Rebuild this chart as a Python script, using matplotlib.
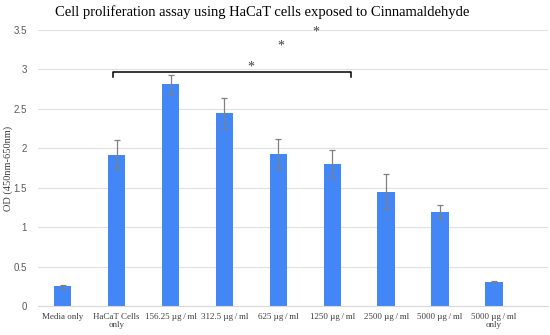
import matplotlib
matplotlib.use("Agg")
import matplotlib.pyplot as plt
import numpy as np

u = "µg\u2009/\u2009ml"
categories = ["Media only", "HaCaT Cells\nonly", "156.25 " + u, "312.5 " + u, "625 " + u,
              "1250 " + u, "2500 " + u, "5000 " + u, "5000 " + u + "\nonly"]
values = [0.25, 1.92, 2.81, 2.45, 1.93, 1.80, 1.45, 1.19, 0.31]
errors = [0.02, 0.18, 0.12, 0.19, 0.19, 0.18, 0.22, 0.09, 0.01]
yticks = [0, 0.5, 1, 1.5, 2, 2.5, 3, 3.5]
ytick_labels = ["0", "0.5", "1", "1.5", "2", "2.5", "3", "3.5"]
bracket = (0.94, 5.34, 2.97)
stars_x = [3.49, 4.05, 4.70]
stars_y = [3.03, 3.30, 3.47]

fig = plt.figure(figsize=(5.5, 3.35), dpi=100)
ax = fig.add_axes([0.069, 0.0866, 0.927, 0.824])
x = np.arange(len(categories))
ax.bar(x, values, width=0.32, color="#4287f5", zorder=2)
ax.errorbar(x, values, yerr=errors, fmt="none", ecolor="#808080", elinewidth=0.9,
            capsize=2.5, capthick=0.9, zorder=3)
ax.set_xlim(-0.46, 9.0)
ax.set_ylim(0, 3.5)
ax.set_yticks(yticks)
ax.set_yticklabels(ytick_labels, fontsize=7, color="#595959", family="Liberation Sans")
ax.set_xticks(x)
ax.set_xticklabels(categories, fontsize=6.5, family="Liberation Serif", color="#404040",
                   linespacing=1.05)
ax.tick_params(axis="x", length=0, pad=5)
ax.tick_params(axis="y", length=0, pad=8)
ax.grid(axis="y", color="#e0e0e0", linewidth=0.8, zorder=0)
for s in ["top", "right", "left"]:
    ax.spines[s].set_visible(False)
ax.spines["bottom"].set_color("#d9d9d9")
ax.set_ylabel("OD (450nm-650nm)", fontsize=7.5, family="Liberation Serif", color="#404040")
ax.yaxis.set_label_coords(-0.049, 0.5)

x0, x1, yb = bracket
ax.plot([x0, x0, x1, x1], [yb - 0.07, yb, yb, yb - 0.07], color="black", lw=1.1, zorder=4,
        clip_on=False)
for sx, sy in zip(stars_x, stars_y):
    ax.text(sx, sy, "*", ha="center", va="center", fontsize=10, color="#404040",
            family="Liberation Serif")

fig.suptitle("Cell proliferation assay using HaCaT cells exposed to Cinnamaldehyde",
             fontsize=10.5, family="Liberation Serif", x=0.477, y=0.985)
fig.savefig("out.png", dpi=100)
